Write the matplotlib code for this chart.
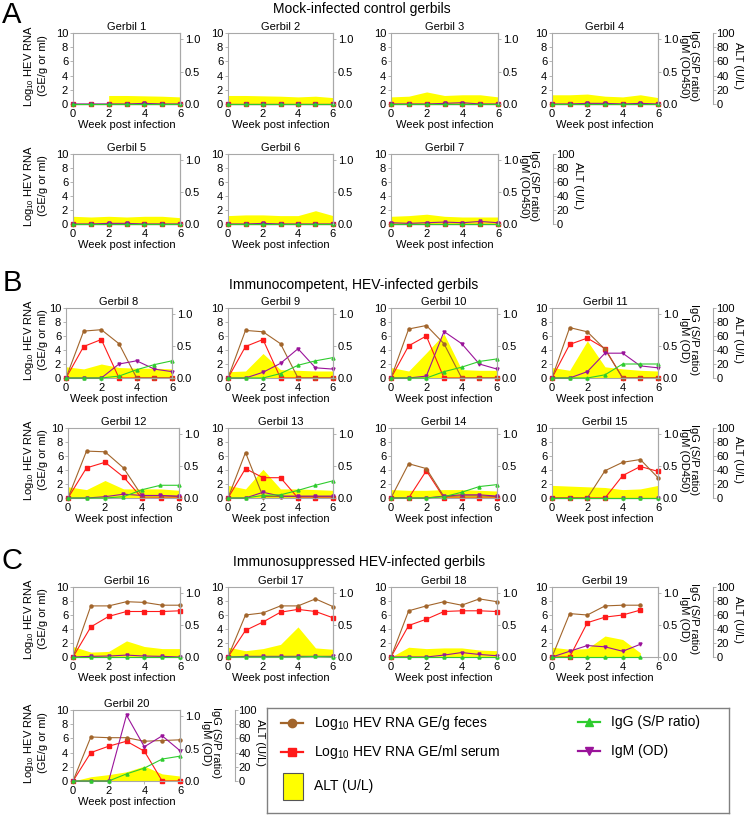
import matplotlib
matplotlib.use('Agg')
import matplotlib.pyplot as plt
from matplotlib.patches import Rectangle

plt.rcParams['font.family'] = ['Liberation Sans', 'DejaVu Sans']
plt.rcParams['mathtext.default'] = 'regular'

W, H = 745, 815
nan = float('nan')

weeks = [0, 1, 2, 3, 4, 5, 6]

# log10 HEV RNA GE/g feces, one row per gerbil (1..20)
feces = [
    [0, 0, 0, 0, 0, 0, 0],
    [0, 0, 0, 0, 0, 0, 0],
    [0, 0, 0, 0, 0, 0, 0],
    [0, 0, 0, 0, 0, 0, 0],
    [0, 0, 0, 0, 0, 0, 0],
    [0, 0, 0, 0, 0, 0, 0],
    [0, 0, 0, 0, 0, 0, 0],
    [0, 6.7, 6.9, 4.9, 0, 0, 0],
    [0, 6.8, 6.6, 4.9, 0, 0, 0],
    [0, 7.0, 7.5, 4.9, 0, 0, 0],
    [0, 7.2, 6.6, 4.1, 0, 0, 0],
    [0, 6.7, 6.6, 4.3, 0.3, 0.3, 0.2],
    [0, 6.5, 0.2, 0.2, 0.2, 0.2, 0.2],
    [0, 4.9, 4.2, 0.2, 0.3, 0.3, 0.2],
    [0, 0, 0, 3.9, 5.1, 5.5, 2.9],
    [0, 7.3, 7.3, 7.9, 7.8, 7.4, 7.4],
    [0, 6.0, 6.3, 7.3, 7.3, 8.3, 7.2],
    [0, 6.6, 7.3, 7.9, 7.4, 8.3, 7.9],
    [0, 6.2, 6.0, 7.3, 7.4, 7.4, nan],
    [0, 6.2, 6.1, 6.1, 5.6, 5.7, 5.8],
]

# log10 HEV RNA GE/ml serum
serum = [
    [0, 0, 0, 0, 0, 0, 0],
    [0, 0, 0, 0, 0, 0, 0],
    [0, 0, 0, 0, 0, 0, 0],
    [0, 0, 0, 0, 0, 0, 0],
    [0, 0, 0, 0, 0, 0, 0],
    [0, 0, 0, 0, 0, 0, 0],
    [0, 0, 0, 0, 0, 0, 0],
    [0, 4.5, 5.5, 0, 0, 0, 0],
    [0, 4.5, 5.5, 0, 0, 0, 0],
    [0, 4.6, 6.0, 0, 0, 0, 0],
    [0, 4.8, 5.7, 4.2, 0, 0, 0],
    [0, 4.3, 5.1, 3.0, 0, 0, 0],
    [0, 4.2, 2.9, 2.9, 0, 0, 0],
    [0, 0, 3.9, 0, 0, 0, 0],
    [0, 0, 0, 0, 3.2, 4.5, 3.8],
    [0, 4.3, 5.8, 6.5, 6.5, 6.5, 6.6],
    [0, 3.8, 5.0, 6.4, 6.8, 6.5, 5.6],
    [0, 4.5, 5.4, 6.5, 6.6, 6.6, 6.5],
    [0, 0, 4.9, 5.7, 6.0, 6.7, nan],
    [0, 4.0, 4.9, 5.6, 4.2, 0, 0],
]

# IgG (S/P ratio)
igg = [
    [0, 0, 0, 0, 0, 0, 0],
    [0, 0, 0, 0, 0, 0, 0],
    [0, 0, 0, 0, 0, 0, 0],
    [0, 0, 0, 0, 0, 0, 0],
    [0, 0, 0, 0, 0, 0, 0],
    [0, 0, 0, 0, 0, 0, 0],
    [0, 0, 0, 0, 0, 0, 0],
    [0, 0, 0, 0.03, 0.13, 0.21, 0.27],
    [0, 0, 0, 0.07, 0.20, 0.27, 0.32],
    [0, 0, 0, 0.10, 0.17, 0.26, 0.30],
    [0, 0, 0, 0.05, 0.22, 0.22, 0.22],
    [0, 0, 0, 0.02, 0.13, 0.20, 0.20],
    [0, 0, 0.04, 0.05, 0.12, 0.20, 0.27],
    [0, 0, 0, 0.02, 0.09, 0.18, 0.21],
    [0, 0, 0, 0, 0, 0, 0],
    [0, 0, 0, 0, 0, 0, 0],
    [0, 0, 0, 0, 0, 0.01, 0],
    [0, 0, 0, 0, 0, 0, 0],
    [0, 0, 0, 0, 0, 0, nan],
    [0, 0, 0, 0.11, 0.20, 0.34, 0.385],
]

# IgM (OD)
igm = [
    [0, 0, 0, 0, 0.01, 0, 0],
    [0, 0, 0, 0, 0, 0, 0],
    [0, 0, 0, 0.01, 0.02, 0, 0],
    [0, 0, 0.01, 0.01, 0, 0.01, 0],
    [0, 0, 0.01, 0.01, 0, 0, 0],
    [0, 0, 0.01, 0, 0, 0, 0],
    [0.02, 0.01, 0.02, 0.03, 0.02, 0.04, 0.02],
    [0, 0, 0, 0.22, 0.27, 0.14, 0.10],
    [0, 0, 0.09, 0.23, 0.46, 0.16, 0.14],
    [0, 0, 0.03, 0.73, 0.54, 0.22, 0.14],
    [0, 0, 0.10, 0.39, 0.39, 0.19, 0.16],
    [0, 0, 0.02, 0.06, 0.04, 0.04, 0.03],
    [0, 0, 0.09, 0.03, 0.03, 0.03, 0.03],
    [0, 0, 0, 0.03, 0.05, 0.05, 0.03],
    [0, 0, 0, 0, 0, 0, 0],
    [0, 0.01, 0.015, 0.03, 0.015, 0.01, 0],
    [0, 0.01, 0.01, 0.01, 0.01, 0.01, 0.01],
    [0, 0, 0, 0.03, 0.07, 0.04, 0.02],
    [0, 0.09, 0.18, 0.16, 0.09, 0.20, nan],
    [0, 0, 0, 1.02, 0.53, 0.70, 0.47],
]

# ALT (U/L)
alt = [
    [nan, nan, 12, 12, 11.5, 11, 10],
    [12, 12, 11.5, 11, 10, 11, 9],
    [10, 11, 17, 12, 13, 13, 10],
    [13, 13, 14, 11, 10, 13, 9],
    [11, 10, 11, 10, 11, 11, 9],
    [12, 13, 13, 12, 12, 19, 12],
    [11, 12, 14, 11, 10, 10, 10],
    [16, 13, 20, 15, 14, 14, 13],
    [9, 10, 35, 12, 11, 10, 10],
    [15, 10, 36, 63, 12, 11, 11],
    [15, 11, 53, 16, 13, 11, 10],
    [16, 12, 25, 13, 13, 13, 11],
    [18, 13, 41, 13, 13, 12, 11],
    [12, 11, 11, 12, 12, 11, 10],
    [18, 17, 16, 15, 12, 13, 18],
    [15, 7, 8, 23, 15, 12, 12],
    [14, 9, 12, 18, 43, 13, 11],
    [0, 14, 12, 13, 13, 10, 9],
    [14, 11, 12, 30, 25, 6, nan],
    [0, 6, 9, 13, 21, 10, 7],
]

BROWN = '#A2652B'
RED = '#FF1A1A'
GREEN = '#2ECC2E'
PURPLE = '#9A139A'
YELLOW = '#FFFF00'
FRAME = '#A8A8A8'

# panel rows: top, bottom (pixels), panel x-ranges, gerbil ids, IgM label
rows = [
    (33, 104, [(73, 180), (228, 333), (391, 498), (552, 658)], [1, 2, 3, 4], 'IgM (OD450)'),
    (154, 224, [(73, 180), (228, 333), (391, 498)], [5, 6, 7], 'IgM (OD450)'),
    (308, 378, [(66, 172), (228, 333), (391, 497), (552, 658)], [8, 9, 10, 11], 'IgM (OD)'),
    (428, 498, [(68, 179), (228, 333), (391, 497), (552, 658)], [12, 13, 14, 15], 'IgM (OD450)'),
    (587, 657, [(73, 180), (228, 333), (391, 497), (552, 658)], [16, 17, 18, 19], 'IgM (OD)'),
    (710, 781, [(73, 180)], [20], 'IgM (OD)'),
]

sections = [
    (15, 9, 362, 'A', 'Mock-infected control gerbils'),
    (283, 285, 354, 'B', 'Immunocompetent, HEV-infected gerbils'),
    (561, 562, 359, 'C', 'Immunosuppressed HEV-infected gerbils'),
]


def box(x0, x1, top, bot):
    return [x0 / W, 1 - bot / H, (x1 - x0) / W, (bot - top) / H]


def fx(x):
    return x / W


def fy(y):
    return 1 - y / H


fig = plt.figure(figsize=(W / 100, H / 100), dpi=100)


def draw_panel(x0, x1, top, bot, g, last):
    i = g - 1
    ax = fig.add_axes(box(x0, x1, top, bot))
    ax3 = ax.twinx()
    ax2 = ax.twinx()
    ax3.set_zorder(0)
    ax.set_zorder(1)
    ax2.set_zorder(2)
    ax.patch.set_visible(False)

    ax3.fill_between(weeks, 0, alt[i], color=YELLOW, lw=0)
    ax3.set_ylim(0, 100)

    ax.plot(weeks, serum[i], color=RED, marker='s', ms=2.2, lw=0.8, clip_on=False)
    ax.plot(weeks, feces[i], color=BROWN, marker='o', ms=2.2, lw=0.8, clip_on=False)
    ax2.plot(weeks, igm[i], color=PURPLE, marker='v', ms=2.2, lw=0.8, clip_on=False)
    ax2.plot(weeks, igg[i], color=GREEN, marker='^', ms=2.2, lw=0.8, clip_on=False)

    ax.set_xlim(0, 6)
    ax.set_ylim(0, 10)
    ax.set_xticks([0, 2, 4, 6])
    ax.set_yticks([0, 2, 4, 6, 8, 10])
    ax2.set_ylim(0, 1.1)
    ax2.set_yticks([0, 0.5, 1.0])
    ax2.set_yticklabels(['0.0', '0.5', '1.0'])

    for a in (ax, ax2):
        a.tick_params(direction='out', length=2.5, width=0.6, color=FRAME,
                      labelsize=8, pad=1)
    for s in ax.spines.values():
        s.set_color(FRAME)
        s.set_linewidth(0.8)
    for name, s in ax2.spines.items():
        s.set_visible(name == 'right')
        s.set_color(FRAME)
        s.set_linewidth(0.8)

    if last:
        for name, s in ax3.spines.items():
            s.set_visible(name == 'right')
        ax3.spines['right'].set_position(('outward', 55 * 0.72))
        ax3.spines['right'].set_color(FRAME)
        ax3.spines['right'].set_linewidth(0.8)
        ax3.set_yticks([0, 20, 40, 60, 80, 100])
        ax3.tick_params(direction='out', length=2, width=0.6, color=FRAME,
                        labelsize=8, pad=0.5)
    else:
        for s in ax3.spines.values():
            s.set_visible(False)
        ax3.set_yticks([])

    ax.set_title(f'Gerbil {g}', fontsize=8, pad=2)
    ax.set_xlabel('Week post infection', fontsize=8, labelpad=1)


for top, bot, xs, ids, igm_label in rows:
    mid = (top + bot) / 2 - 3
    fig.text(fx(35), fy(mid), 'Log$_{10}$ HEV RNA\n(GE/g or ml)', rotation=90,
             ha='center', va='center', fontsize=8, linespacing=1.2)
    for k, (g, (x0, x1)) in enumerate(zip(ids, xs)):
        draw_panel(x0, x1, top, bot, g, k == len(ids) - 1)
    right = xs[-1][1]
    fig.text(fx(right + 31), fy(mid), 'IgG (S/P ratio)\n' + igm_label, rotation=270,
             ha='center', va='center', fontsize=8, linespacing=1.0)
    fig.text(fx(right + 80), fy(mid), 'ALT (U/L)', rotation=270,
             ha='center', va='center', fontsize=8)

for ly, ty, tx, letter, title in sections:
    fig.text(fx(12), fy(ly), letter, fontsize=21, ha='center', va='center')
    fig.text(fx(tx), fy(ty), title, fontsize=10, ha='center', va='center')

# legend box, drawn in its own pixel-unit axes
lax = fig.add_axes(box(267, 729, 708, 813))
lax.set_xlim(0, 462)
lax.set_ylim(105, 0)
lax.set_xticks([])
lax.set_yticks([])
for s in lax.spines.values():
    s.set_color('#808080')
    s.set_linewidth(1)

entries = [
    (14, 15, BROWN, 'o', 'Log$_{10}$ HEV RNA GE/g feces'),
    (14, 44, RED, 's', 'Log$_{10}$ HEV RNA GE/ml serum'),
    (311, 14, GREEN, '^', 'IgG (S/P ratio)'),
    (311, 43, PURPLE, 'v', 'IgM (OD)'),
]
for hx, hy, color, marker, label in entries:
    lax.plot([hx, hx + 22], [hy, hy], color=color, lw=1.6)
    lax.plot([hx + 11], [hy], color=color, marker=marker, ms=6, lw=0)
    lax.text(hx + 33, hy, label, fontsize=10, va='center', ha='left')
lax.add_patch(Rectangle((16, 65), 20, 27, facecolor=YELLOW, edgecolor='#555555', lw=0.8))
lax.text(47, 78, 'ALT (U/L)', fontsize=10, va='center', ha='left')

fig.savefig('out.png', dpi=100)
